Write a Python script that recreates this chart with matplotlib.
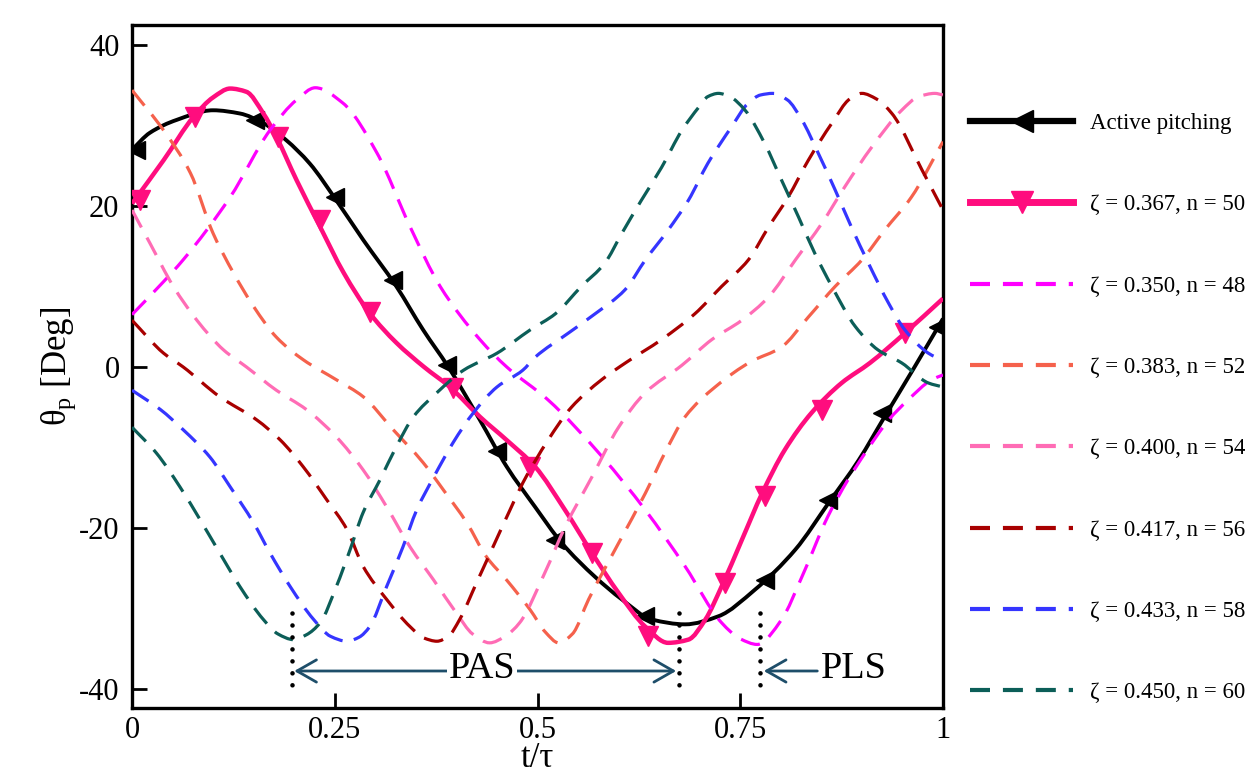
import matplotlib
matplotlib.use('Agg')
import matplotlib.pyplot as plt
from matplotlib.lines import Line2D
from matplotlib.path import Path
from matplotlib.patches import PathPatch
import numpy as np

plt.rcParams['font.family'] = ['Liberation Serif', 'DejaVu Serif']
plt.rcParams['mathtext.fontset'] = 'custom'
plt.rcParams['mathtext.rm'] = 'Liberation Serif'
plt.rcParams['mathtext.it'] = 'Liberation Serif:italic'

# ---------------- data ----------------
active_t = [0, 0.022, 0.055, 0.1, 0.133, 0.162, 0.19, 0.219, 0.252, 0.285, 0.326, 0.359, 0.39,
            0.429, 0.462, 0.497, 0.53, 0.571, 0.604, 0.641, 0.682, 0.723, 0.768, 0.818, 0.859,
            0.896, 0.928, 0.965, 1.0]
active_y = [27, 29.1, 30.7, 31.9, 31.5, 30.3, 28.2, 25.3, 20.7, 15.8, 10, 4.6, 0,
            -6.6, -12.4, -17.4, -21.9, -26.1, -28.9, -31.4, -32, -31, -27.7, -22.7, -16.9,
            -11.6, -6.2, 0, 6]
active_mk_t = [0.005, 0.152, 0.25, 0.322, 0.388, 0.45, 0.522, 0.633, 0.78, 0.858, 0.925, 0.994]
active_mk_y = [27, 30.7, 21.1, 10.8, 0.2, -10.5, -21.5, -31, -26.5, -16.5, -5.7, 5]

z367_t = [0, 0.039, 0.076, 0.1, 0.121, 0.141, 0.162, 0.178, 0.203, 0.232, 0.261, 0.293, 0.326,
          0.36, 0.392, 0.429, 0.462, 0.497, 0.534, 0.567, 0.6, 0.633, 0.661, 0.686, 0.707, 0.727,
          0.752, 0.777, 0.805, 0.838, 0.875, 0.91, 0.953, 1.0]
z367_y = [20.3, 25.7, 31.1, 33.5, 34.6, 34.2, 31.5, 28.6, 23.2, 17.4, 11.7, 6.7, 3.0,
          0, -2.5, -6.2, -9.1, -12.4, -17.8, -23.1, -28.1, -32.3, -34.3, -33.9, -31.4, -27.3,
          -21.5, -15.7, -10.3, -5.7, -2.0, 0.5, 4.2, 8.5]
z367_mk_t = [0.01, 0.078, 0.18, 0.232, 0.293, 0.396, 0.491, 0.567, 0.636, 0.731, 0.78, 0.851, 0.953]
z367_mk_y = [20.7, 31.1, 28.6, 18.3, 6.8, -2.6, -12.4, -23.1, -33.5, -26.8, -16.1, -5.3, 4.2]

z350_t = [0, 0.038, 0.063, 0.121, 0.17, 0.203, 0.226, 0.26, 0.302, 0.343, 0.38, 0.429, 0.462,
          0.513, 0.58, 0.633, 0.682, 0.727, 0.75, 0.771, 0.801, 0.826, 0.858, 0.883, 0.904,
          0.933, 0.957, 0.986, 1.0]
z350_y = [6.5, 10.5, 13.3, 21.1, 29.4, 33.2, 34.7, 32.8, 26.6, 17.4, 10, 3.4, 0,
          -4.1, -11.2, -17.8, -24.8, -31.8, -33.8, -34.5, -31.4, -26.1, -18.6, -14, -10.7,
          -6.6, -4.1, -1.6, -1.0]

z383_t = [0, 0.039, 0.072, 0.1, 0.125, 0.15, 0.178, 0.211, 0.252, 0.285, 0.322, 0.359, 0.384,
          0.413, 0.437, 0.462, 0.491, 0.51, 0.526, 0.543, 0.563, 0.6, 0.633, 0.657, 0.682, 0.719,
          0.764, 0.8, 0.834, 0.867, 0.9, 0.928, 0.961, 1.0]
z383_y = [34.4, 29.4, 24.1, 16.6, 11.7, 7.5, 3.7, 0.9, -1.6, -3.7, -7.8, -11.9, -15.3,
          -19.4, -23.6, -26.5, -30.2, -33.0, -34.3, -33.2, -28.9, -21.9, -15.7, -10.7, -6.2, -2.5,
          0.7, 2.4, 6.2, 10, 13.3, 17, 21.1, 28]

z400_t = [0, 0.022, 0.051, 0.08, 0.113, 0.141, 0.178, 0.215, 0.252, 0.285, 0.314, 0.343, 0.372,
          0.4, 0.42, 0.441, 0.46, 0.478, 0.509, 0.534, 0.567, 0.6, 0.633, 0.678, 0.715, 0.752,
          0.785, 0.818, 0.851, 0.879, 0.912, 0.949, 0.97, 0.99, 1.0]
z400_y = [19.5, 15.4, 10, 5.8, 2.1, 0, -2.9, -5.3, -8.7, -12.8, -17.4, -22.4, -26.5,
          -30.6, -33.2, -34.3, -33.5, -31.8, -25.6, -19.9, -13.7, -7.5, -3.2, 0.2, 3.4, 5.8,
          8.7, 13.3, 17.9, 22.4, 27.3, 31.9, 33.6, 34, 33.8]

z417_t = [0, 0.039, 0.063, 0.108, 0.154, 0.183, 0.211, 0.24, 0.265, 0.285, 0.314, 0.343, 0.36,
          0.376, 0.39, 0.404, 0.425, 0.445, 0.466, 0.482, 0.513, 0.542, 0.579, 0.61, 0.653, 0.694,
          0.727, 0.76, 0.785, 0.809, 0.834, 0.863, 0.885, 0.9, 0.918, 0.937, 0.974, 1.0]
z417_y = [5.8, 1.7, 0, -3.7, -6.6, -9.1, -12.4, -16.5, -20.2, -24.8, -28.9, -32.3, -33.7,
          -34.1, -33.5, -31.4, -26.8, -22.4, -17.8, -14.4, -9.1, -5.0, -1.6, 0.6, 3.4, 6.6,
          10, 13.3, 17.4, 21.1, 25.7, 30.3, 33.3, 34, 33.3, 31.5, 24.5, 19.5]

z433_t = [0, 0.035, 0.063, 0.096, 0.121, 0.15, 0.17, 0.195, 0.224, 0.245, 0.265, 0.28, 0.293,
          0.314, 0.334, 0.351, 0.372, 0.396, 0.421, 0.45, 0.482, 0.497, 0.538, 0.571, 0.608,
          0.633, 0.661, 0.686, 0.71, 0.739, 0.76, 0.775, 0.79, 0.808, 0.826, 0.846, 0.867, 0.887,
          0.908, 0.933, 0.953, 0.982, 1.0]
z433_y = [-2.9, -5.3, -7.8, -11.2, -14.9, -19.4, -23.1, -27.3, -31.4, -33.5, -34.1, -33.6, -32.3,
          -27.3, -22.4, -17.8, -13.7, -9.4, -5.7, -2.5, -0.4, 1.2, 4.2, 6.6, 9.6,
          13.3, 17.0, 20.7, 25.3, 29.8, 32.8, 33.8, 34, 33.2, 30.7, 26.6, 22, 17.4,
          12.9, 7.9, 4.6, 1.7, 0.8]

z450_t = [0, 0.03, 0.059, 0.084, 0.108, 0.133, 0.162, 0.18, 0.199, 0.215, 0.232, 0.252, 0.269,
          0.285, 0.306, 0.326, 0.347, 0.376, 0.409, 0.45, 0.491, 0.522, 0.554, 0.583, 0.604,
          0.628, 0.653, 0.678, 0.699, 0.71, 0.723, 0.737, 0.756, 0.78, 0.801, 0.822, 0.842,
          0.863, 0.892, 0.92, 0.949, 0.982, 1.0]
z450_y = [-7.5, -10.7, -14.9, -19, -23.1, -27.3, -31.4, -33.2, -33.9, -33.3, -31.8, -27.3, -22.7,
          -18.1, -14, -9.9, -6.2, -3.2, -0.4, 1.7, 4.6, 6.6, 10, 12.9, 16.6,
          20.7, 24.8, 29.4, 32.3, 33.6, 34, 33.6, 31.9, 27.8, 23.2, 18.6, 14.1,
          10, 5, 2.1, 0.5, -2, -2.5]

labels = ['Active pitching', 'ζ = 0.367, n = 50', 'ζ = 0.350, n = 48', 'ζ = 0.383, n = 52',
          'ζ = 0.400, n = 54', 'ζ = 0.417, n = 56', 'ζ = 0.433, n = 58', 'ζ = 0.450, n = 60']

xticks = [0, 0.25, 0.5, 0.75, 1]
xtick_labels = ['0', '0.25', '0.5', '0.75', '1']
yticks = [-40, -20, 0, 20, 40]
ytick_labels = ['-40', '-20', '0', '20', '40']

pas_range = [0.197, 0.674]
pls_range = [0.845, 0.776]
dotted_t = [0.197, 0.674, 0.774]
dotted_y = [-30.6, -40.6]
arrow_y = -37.8


def smooth_path(t, y):
    """Cubic Bezier path through the given points (PCHIP tangents), drawn by matplotlib."""
    t = np.asarray(t, float)
    y = np.asarray(y, float)
    h = np.diff(t)
    d = np.diff(y) / h
    n = len(t)
    m = np.zeros(n)
    for i in range(1, n - 1):
        if d[i - 1] * d[i] <= 0:
            m[i] = 0.0
        else:
            w1 = 2 * h[i] + h[i - 1]
            w2 = h[i] + 2 * h[i - 1]
            m[i] = (w1 + w2) / (w1 / d[i - 1] + w2 / d[i])
    m[0] = d[0]
    m[-1] = d[-1]
    verts = [(t[0], y[0])]
    codes = [Path.MOVETO]
    for i in range(n - 1):
        verts += [(t[i] + h[i] / 3, y[i] + m[i] * h[i] / 3),
                  (t[i + 1] - h[i] / 3, y[i + 1] - m[i + 1] * h[i] / 3),
                  (t[i + 1], y[i + 1])]
        codes += [Path.CURVE4] * 3
    return Path(verts, codes)


# ---------------- style ----------------
c_black = '#000000'
c_367 = '#FF0D7E'
dashed = [
    (z350_t, z350_y, '#FF00FF'),
    (z383_t, z383_y, '#F5614C'),
    (z400_t, z400_y, '#FF6CB5'),
    (z417_t, z417_y, '#A80000'),
    (z433_t, z433_y, '#3535FF'),
    (z450_t, z450_y, '#0C5E58'),
]
arrow_color = '#1E4E6A'

W, H = 1255, 775
fig = plt.figure(figsize=(W / 100, H / 100), dpi=100)
ax = fig.add_axes([132 / W, 1 - 708 / H, (943 - 132) / W, (708 - 25) / H])

ax.add_patch(PathPatch(smooth_path(active_t, active_y), fill=False, edgecolor=c_black,
                       lw=2.8, zorder=3, capstyle='butt'))
ax.plot(active_mk_t, active_mk_y, ls='none', marker='<', ms=12.5, color=c_black, zorder=3)
ax.add_patch(PathPatch(smooth_path(z367_t, z367_y), fill=False, edgecolor=c_367,
                       lw=3.2, zorder=3, capstyle='butt'))
ax.plot(z367_mk_t, z367_mk_y, ls='none', marker='v', ms=15, color=c_367, zorder=3)

for t, y, c in dashed:
    ax.add_patch(PathPatch(smooth_path(t, y), fill=False, edgecolor=c, lw=2.3,
                           linestyle=(0, (6.2, 3.6)), zorder=4, capstyle='butt'))

for xt in dotted_t:
    ax.plot([xt, xt], dotted_y, color='black', lw=3.3, linestyle=(0, (0.01, 2.6)),
            dash_capstyle='round', zorder=5)

ax.annotate('', xy=(pas_range[0] + 0.003, arrow_y), xytext=(pas_range[1] - 0.003, arrow_y),
            arrowprops=dict(arrowstyle='<->,head_length=0.7,head_width=0.4', color=arrow_color,
                            lw=2.0, mutation_scale=20, shrinkA=0, shrinkB=0), zorder=5)
ax.text(0.4316, arrow_y + 0.3, 'PAS', fontsize=27.5, ha='center', va='center', zorder=6,
        bbox=dict(facecolor='white', edgecolor='none', pad=1.0))
ax.annotate('', xy=(pls_range[1] + 0.003, arrow_y), xytext=(pls_range[0], arrow_y),
            arrowprops=dict(arrowstyle='->,head_length=0.7,head_width=0.4', color=arrow_color,
                            lw=2.0, mutation_scale=20, shrinkA=0, shrinkB=0), zorder=5)
ax.text(0.849, arrow_y + 0.3, 'PLS', fontsize=27.5, ha='left', va='center', zorder=6)

ax.set_xlim(0, 1)
ax.set_ylim(-42.4, 42.5)
ax.set_xticks(xticks)
ax.set_xticklabels(xtick_labels)
ax.set_yticks(yticks)
ax.set_yticklabels(ytick_labels)
ax.tick_params(direction='in', length=11, width=2, labelsize=22, top=False, right=False)
ax.tick_params(axis='x', pad=6)
ax.tick_params(axis='y', pad=9)
for s in ax.spines.values():
    s.set_linewidth(2.4)

ax.set_xlabel('t/τ', fontsize=25)
ax.xaxis.set_label_coords(0.5, -0.05)
ax.xaxis.label.set_va('top')
ax.set_ylabel(r'θ$_{\mathregular{p}}$ [Deg]', fontsize=25)
ax.yaxis.set_label_coords(-0.067, 0.5)

handles = [Line2D([], [], color=c_black, lw=4.5, marker='<', ms=16),
           Line2D([], [], color=c_367, lw=5, marker='v', ms=16)]
for t, y, c in dashed:
    handles.append(Line2D([], [], color=c, lw=3, dashes=(4.8, 3.1)))
fig.legend(handles, labels, loc='upper left', bbox_to_anchor=(970 / W, 1 - 113 / H),
           frameon=False, fontsize=16.5, handlelength=4.5, handletextpad=0.75,
           labelspacing=2.63, borderpad=0, borderaxespad=0)

fig.savefig('out.png', dpi=100)
